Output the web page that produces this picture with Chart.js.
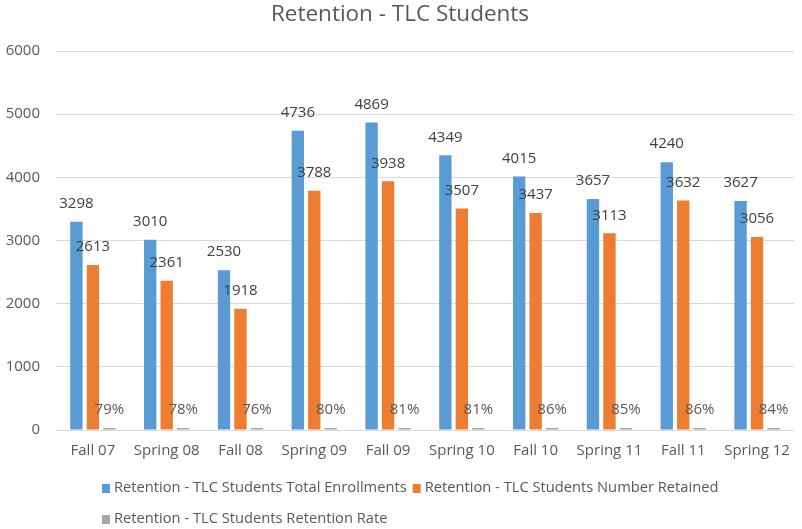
<!DOCTYPE html>
<html>
<head>
<meta charset="utf-8">
<script src="https://cdn.jsdelivr.net/npm/chart.js@4.4.0/dist/chart.umd.min.js"></script>
<style>
  html, body { margin: 0; padding: 0; background: #fff; }
  #wrap { width: 802px; height: 529px; position: relative; }
</style>
</head>
<body>
<div id="wrap"><canvas id="retentionChart"></canvas></div>
<script>
/* ========================================
   DADOS
   ======================================== */
const semesters = ['Fall 07', 'Spring 08', 'Fall 08', 'Spring 09', 'Fall 09',
  'Spring 10', 'Fall 10', 'Spring 11', 'Fall 11', 'Spring 12'];
const totalEnrollments = [3298, 3010, 2530, 4736, 4869, 4349, 4015, 3657, 4240, 3627];
const numberRetained = [2613, 2361, 1918, 3788, 3938, 3507, 3437, 3113, 3632, 3056];
const retentionRate = [0.79, 0.78, 0.76, 0.80, 0.81, 0.81, 0.86, 0.85, 0.86, 0.84];
const yTicks = [0, 1000, 2000, 3000, 4000, 5000, 6000];

const FONT = '"Open Sans", "DejaVu Sans", sans-serif';
const TEXT = '#595959';

/* ========================================
   PLUGINS - RÓTULOS E LEGENDA
   ======================================== */

// Rótulos de valor acima de cada barra
const valueLabels = {
  id: 'valueLabels',
  afterDatasetsDraw(chart) {
    const ctx = chart.ctx;
    ctx.save();
    ctx.font = '15px ' + FONT;
    ctx.textAlign = 'center';
    ctx.textBaseline = 'middle';
    chart.data.datasets.forEach((ds, i) => {
      const meta = chart.getDatasetMeta(i);
      meta.data.forEach((bar, j) => {
        const v = ds.data[j];
        const txt = ds.isRate ? Math.round(v * 100) + '%' : String(v);
        ctx.fillStyle = ds.isRate ? TEXT : '#404040';
        ctx.fillText(txt, bar.x, Math.min(bar.y, bar.base - 2) - 18);
      });
    });
    ctx.restore();
  }
};

// Legenda no estilo Excel: segunda linha alinhada à esquerda da primeira
const excelLegend = {
  id: 'excelLegend',
  afterDraw(chart) {
    const ctx = chart.ctx;
    const rows = [[0, 1], [2]];
    const rowY = [488, 519];
    const left = 102;
    ctx.save();
    ctx.font = '14.7px ' + FONT;
    ctx.textBaseline = 'middle';
    ctx.textAlign = 'left';
    rows.forEach((row, r) => {
      let x = left;
      row.forEach(i => {
        const ds = chart.data.datasets[i];
        ctx.fillStyle = ds.backgroundColor;
        ctx.fillRect(x, rowY[r] - 4, 8, 9);
        x += 12;
        ctx.fillStyle = TEXT;
        ctx.fillText(ds.label, x, rowY[r]);
        x += ctx.measureText(ds.label).width + 6;
      });
    });
    ctx.restore();
  }
};

/* ========================================
   GRÁFICO
   ======================================== */
function buildChart() {
  const canvas = document.getElementById('retentionChart');

  new Chart(canvas, {
    type: 'bar',
    data: {
      labels: semesters,
      datasets: [
        {
          label: 'Retention - TLC Students Total Enrollments',
          data: totalEnrollments,
          backgroundColor: '#5B9BD5'
        },
        {
          label: 'Retention - TLC Students Number Retained',
          data: numberRetained,
          backgroundColor: '#ED7D31'
        },
        {
          label: 'Retention - TLC Students Retention Rate',
          data: retentionRate,
          backgroundColor: '#A5A5A5',
          minBarLength: 2,
          isRate: true
        }
      ]
    },
    options: {
      responsive: true,
      maintainAspectRatio: false,
      animation: false,
      categoryPercentage: 0.67,
      barPercentage: 0.75,
      layout: {
        padding: { top: 1, left: 0, right: 2, bottom: 57 }
      },
      plugins: {
        legend: { display: false },
        tooltip: { enabled: false },
        title: {
          display: true,
          text: 'Retention - TLC Students',
          color: TEXT,
          font: { family: FONT, size: 22.5, weight: 'normal' },
          padding: { top: 0, bottom: 23 }
        }
      },
      scales: {
        x: {
          grid: { display: false, drawTicks: false },
          border: { color: '#d9d9d9' },
          ticks: {
            color: TEXT,
            font: { family: FONT, size: 15 },
            padding: 12,
            maxRotation: 0
          }
        },
        y: {
          min: yTicks[0],
          max: yTicks[yTicks.length - 1],
          afterFit(scale) { scale.width = 56; },
          afterBuildTicks(scale) { scale.ticks = yTicks.map(v => ({ value: v })); },
          grid: { color: '#d9d9d9', drawTicks: false },
          border: { display: false },
          ticks: {
            color: TEXT,
            font: { family: FONT, size: 15 },
            padding: 16,
            callback: v => String(v)
          }
        }
      }
    },
    plugins: [valueLabels, excelLegend]
  });
}

buildChart();
</script>
</body>
</html>
